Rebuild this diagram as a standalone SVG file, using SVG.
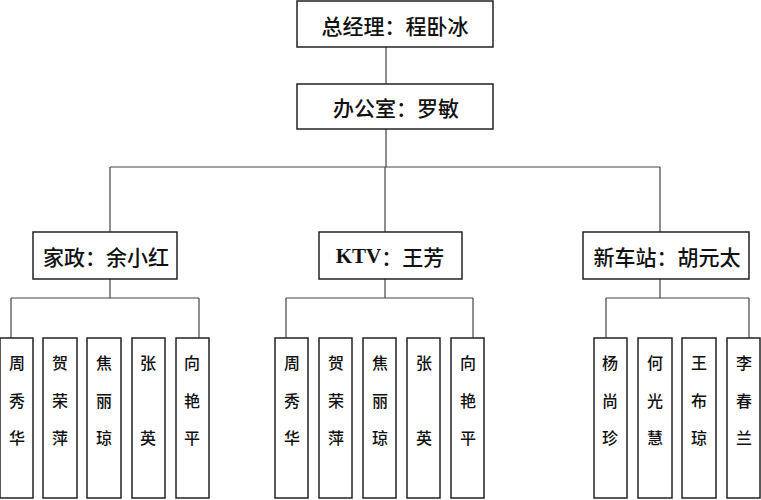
<svg xmlns="http://www.w3.org/2000/svg" width="761" height="500" viewBox="0 0 761 500">
<style>
.box{fill:#fff;stroke:#222;stroke-width:1.5}
.ln{fill:none;stroke:#444;stroke-width:1.2}
.t{font-family:"Noto Sans CJK SC","Noto Sans",sans-serif;font-size:21px;font-weight:500;fill:#111;text-anchor:middle;dominant-baseline:central}
.b{font-family:"Liberation Serif",serif;font-weight:bold}
.v{font-family:"Noto Sans CJK SC","Noto Sans",sans-serif;font-size:16px;font-weight:500;fill:#111;text-anchor:middle;dominant-baseline:central}
</style>
<rect width="761" height="500" fill="#fff"/>
<g id="connectors" class="ln">
<path d="M386 47V84M386 129V167M110 167H660M110 167V232M385 167V232M660 167V232"/>
<path d="M110 279V298M11 298H199M11 298V338M199 298V338"/>
<path d="M385 279V298M286 298H473M286 298V338M473 298V338"/>
<path d="M660 279V298M606 298H749M606 298V338M749 298V338"/>
</g>
<g id="ceo"><rect class="box" x="297" y="1" width="196" height="46"/><text class="t" x="395" y="25">总经理：程卧冰</text></g>
<g id="office"><rect class="box" x="297" y="84" width="196" height="45"/><text class="t" x="396" y="107">办公室：罗敏</text></g>
<g id="jiazheng"><rect class="box" x="33" y="232" width="144" height="47"/><text class="t" x="106" y="256">家政：余小红</text></g>
<g id="ktv"><rect class="box" x="319" y="232" width="143" height="47"/><text class="t" x="390" y="256"><tspan class="b">KTV</tspan>：王芳</text></g>
<g id="xinchezhan"><rect class="box" x="583" y="232" width="166" height="47"/><text class="t" x="667" y="256">新车站：胡元太</text></g>

<g id="l1"><rect class="box" x="0" y="338" width="33" height="160"/><text class="v" x="17" y="362">周</text><text class="v" x="17" y="400">秀</text><text class="v" x="17" y="437">华</text></g>
<g id="l2"><rect class="box" x="43" y="338" width="34" height="160"/><text class="v" x="60" y="362">贺</text><text class="v" x="60" y="400">荣</text><text class="v" x="60" y="437">萍</text></g>
<g id="l3"><rect class="box" x="87" y="338" width="34" height="160"/><text class="v" x="104" y="362">焦</text><text class="v" x="104" y="400">丽</text><text class="v" x="104" y="437">琼</text></g>
<g id="l4"><rect class="box" x="132" y="338" width="33" height="160"/><text class="v" x="148" y="362">张</text><text class="v" x="148" y="437">英</text></g>
<g id="l5"><rect class="box" x="176" y="338" width="33" height="160"/><text class="v" x="192" y="362">向</text><text class="v" x="192" y="400">艳</text><text class="v" x="192" y="437">平</text></g>

<g id="m1"><rect class="box" x="275" y="338" width="33" height="160"/><text class="v" x="292" y="362">周</text><text class="v" x="292" y="400">秀</text><text class="v" x="292" y="437">华</text></g>
<g id="m2"><rect class="box" x="319" y="338" width="33" height="160"/><text class="v" x="336" y="362">贺</text><text class="v" x="336" y="400">荣</text><text class="v" x="336" y="437">萍</text></g>
<g id="m3"><rect class="box" x="363" y="338" width="33" height="160"/><text class="v" x="380" y="362">焦</text><text class="v" x="380" y="400">丽</text><text class="v" x="380" y="437">琼</text></g>
<g id="m4"><rect class="box" x="407" y="338" width="33" height="160"/><text class="v" x="424" y="362">张</text><text class="v" x="424" y="437">英</text></g>
<g id="m5"><rect class="box" x="451" y="338" width="33" height="160"/><text class="v" x="468" y="362">向</text><text class="v" x="468" y="400">艳</text><text class="v" x="468" y="437">平</text></g>

<g id="r1"><rect class="box" x="594" y="338" width="33" height="160"/><text class="v" x="610" y="362">杨</text><text class="v" x="610" y="400">尚</text><text class="v" x="610" y="437">珍</text></g>
<g id="r2"><rect class="box" x="638" y="338" width="34" height="160"/><text class="v" x="655" y="362">何</text><text class="v" x="655" y="400">光</text><text class="v" x="655" y="437">慧</text></g>
<g id="r3"><rect class="box" x="682" y="338" width="34" height="160"/><text class="v" x="699" y="362">王</text><text class="v" x="699" y="400">布</text><text class="v" x="699" y="437">琼</text></g>
<g id="r4"><rect class="box" x="727" y="338" width="33" height="160"/><text class="v" x="744" y="362">李</text><text class="v" x="744" y="400">春</text><text class="v" x="744" y="437">兰</text></g>
</svg>
